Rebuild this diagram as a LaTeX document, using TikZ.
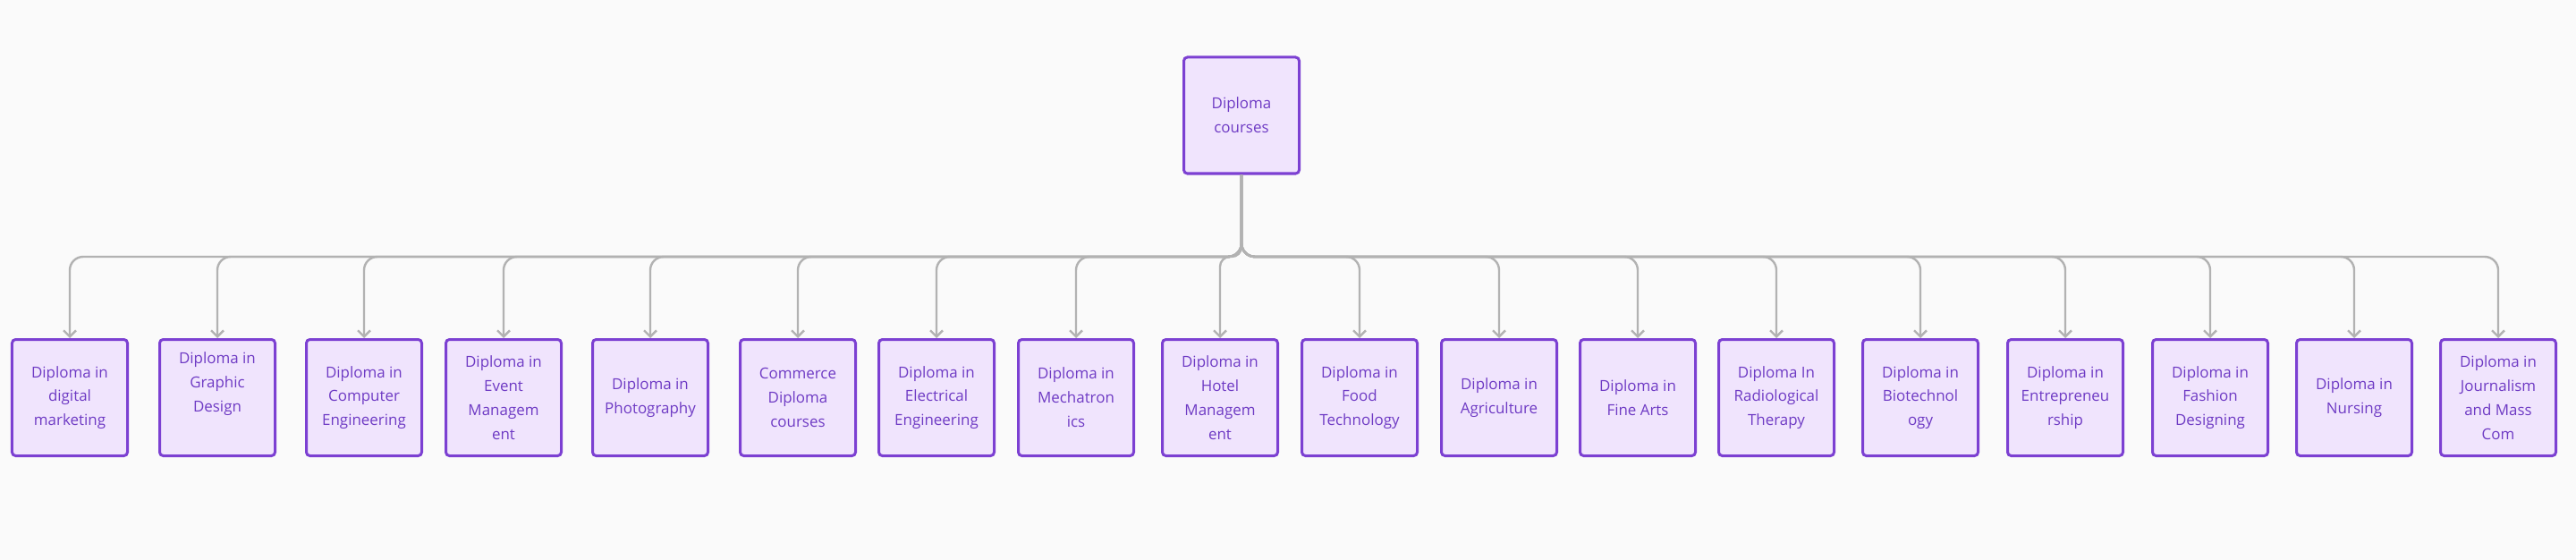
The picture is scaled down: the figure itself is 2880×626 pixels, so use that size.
\documentclass[tikz,border=0pt]{standalone}
\usepackage{fontspec}
\setmainfont{Open Sans}
\usetikzlibrary{arrows.meta}
\definecolor{bgc}{RGB}{250,250,250}
\definecolor{boxfill}{RGB}{240,228,253}
\definecolor{boxline}{RGB}{124,64,210}
\definecolor{boxtext}{RGB}{110,58,196}
\definecolor{linec}{RGB}{178,178,178}
\tikzset{
  course/.style={draw=boxline, fill=boxfill, line width=3bp, rounded corners=4bp,
    minimum width=129bp, minimum height=130bp, inner sep=0pt, align=center,
    text=boxtext, font=\fontsize{17}{27}\selectfont},
  conn/.style={draw=linec, line width=2.4bp, rounded corners=15bp,
    -{Straight Barb[length=7bp,width=14bp,line width=2.4bp]}}
}
\begin{document}
\begin{tikzpicture}[x=1bp,y=-1bp]
\useasboundingbox (0,0) rectangle (2880,626);
\fill[bgc] (0,0) rectangle (2880,626);
\node[course] (root) at (1388,129) {Diploma\\courses};
\coordinate (bus) at (1388,287);
\node[course] (c1) at (78,444.5) {Diploma in\\digital\\marketing};
\node[course] (c2) at (243,444.5) {Diploma in\\Graphic\\Design\\\strut};
\node[course] (c3) at (407,444.5) {Diploma in\\Computer\\Engineering};
\node[course] (c4) at (563,444.5) {Diploma in\\Event\\Managem\\ent};
\node[course] (c5) at (727,444.5) {Diploma in\\Photography};
\node[course] (c6) at (892,444.5) {Commerce\\Diploma\\courses};
\node[course] (c7) at (1047,444.5) {Diploma in\\Electrical\\Engineering};
\node[course] (c8) at (1203,444.5) {Diploma in\\Mechatron\\ics};
\node[course] (c9) at (1364,444.5) {Diploma in\\Hotel\\Managem\\ent};
\node[course] (c10) at (1520,444.5) {Diploma in\\Food\\Technology};
\node[course] (c11) at (1676,444.5) {Diploma in\\Agriculture};
\node[course] (c12) at (1831,444.5) {Diploma in\\Fine Arts};
\node[course] (c13) at (1986,444.5) {Diploma In\\Radiological\\Therapy};
\node[course] (c14) at (2147,444.5) {Diploma in\\Biotechnol\\ogy};
\node[course] (c15) at (2309,444.5) {Diploma in\\Entrepreneu\\rship};
\node[course] (c16) at (2471,444.5) {Diploma in\\Fashion\\Designing};
\node[course] (c17) at (2632,444.5) {Diploma in\\Nursing};
\node[course] (c18) at (2793,444.5) {Diploma in\\Journalism\\and Mass\\Com};
\foreach \c in {c1,c2,c3,c4,c5,c6,c7,c8,c10,c11,c12,c13,c14,c15,c16,c17,c18}
  \draw[conn] (root.south) |- (\c.north |- bus) -- (\c.north);
\draw[conn, rounded corners=11bp] (root.south) |- (c9.north |- bus) -- (c9.north);
\end{tikzpicture}
\end{document}
